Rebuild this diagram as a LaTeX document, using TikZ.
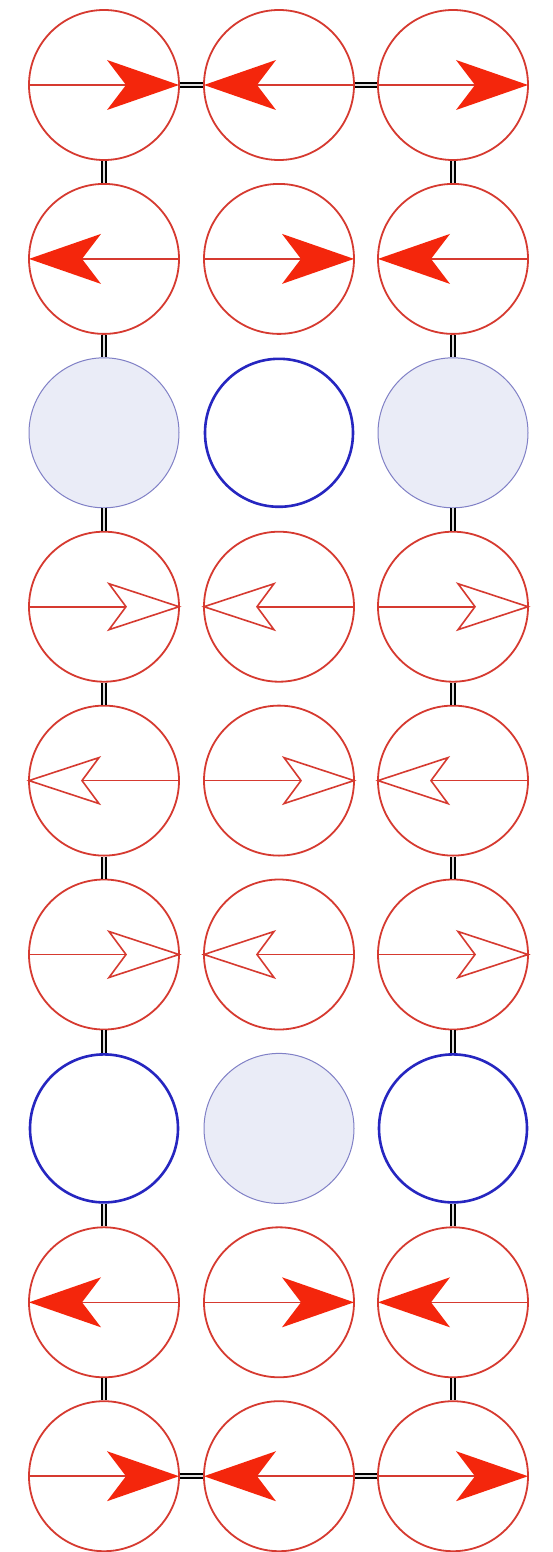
\documentclass[tikz,border=0pt]{standalone}
\definecolor{cred}{RGB}{214,58,48}
\definecolor{hred}{RGB}{244,38,12}
\definecolor{cblue}{RGB}{38,38,192}
\definecolor{gblue}{RGB}{128,128,198}
\definecolor{gfill}{RGB}{234,236,247}
\tikzset{
  spinc/.style={circle,draw=cred,line width=1.8pt,minimum size=150pt,inner sep=0pt},
  vacc/.style={circle,draw=cblue,line width=2.6pt,minimum size=148pt,inner sep=0pt},
  dotc/.style={circle,draw=gblue,line width=1pt,fill=gfill,minimum size=150pt,inner sep=0pt},
  bond/.style={draw=black,double=white!75!gray,double distance=2.2pt,line width=1.8pt},
  pics/fhead/.style={code={
    \draw[cred,line width=1.6pt] (-75,0) -- (30,0);
    \fill[hred] (75,0) -- (3,25) -- (22,0) -- (3,-25) -- cycle;}},
  pics/ohead/.style={code={
    \draw[cred,line width=1.6pt] (-75,0) -- (22,0);
    \draw[cred,line width=1.6pt,fill=white,line join=miter] (75,0) -- (5,23) -- (22,0) -- (5,-23) -- cycle;}}
}
\begin{document}
\begin{tikzpicture}[x=1pt,y=-1pt]
\useasboundingbox (0,0) rectangle (553,1552);
\fill[white] (0,0) rectangle (553,1552);
\foreach \r/\ta/\tb/\tc in {1/spinc/spinc/spinc,2/spinc/spinc/spinc,3/dotc/vacc/dotc,
  4/spinc/spinc/spinc,5/spinc/spinc/spinc,6/spinc/spinc/spinc,7/vacc/dotc/vacc,
  8/spinc/spinc/spinc,9/spinc/spinc/spinc}{
  \pgfmathsetmacro{\yy}{85+173.9*(\r-1)}
  \node[\ta] (c\r1) at (104,\yy) {};
  \node[\tb] (c\r2) at (279,\yy) {};
  \node[\tc] (c\r3) at (453,\yy) {};
}
% bonds
\foreach \r [evaluate=\r as \s using int(\r+1)] in {1,...,8}{
  \draw[bond] (c\r1.south) -- (c\s1.north);
  \draw[bond] (c\r3.south) -- (c\s3.north);
}
\draw[bond] (c11.east) -- (c12.west);
\draw[bond] (c12.east) -- (c13.west);
\draw[bond] (c91.east) -- (c92.west);
\draw[bond] (c92.east) -- (c93.west);
% spins
\pic at (c11.center) {fhead};
\pic[xscale=-1] at (c12.center) {fhead};
\pic at (c13.center) {fhead};
\pic[xscale=-1] at (c21.center) {fhead};
\pic at (c22.center) {fhead};
\pic[xscale=-1] at (c23.center) {fhead};
\pic at (c41.center) {ohead};
\pic[xscale=-1] at (c42.center) {ohead};
\pic at (c43.center) {ohead};
\pic[xscale=-1] at (c51.center) {ohead};
\pic at (c52.center) {ohead};
\pic[xscale=-1] at (c53.center) {ohead};
\pic at (c61.center) {ohead};
\pic[xscale=-1] at (c62.center) {ohead};
\pic at (c63.center) {ohead};
\pic[xscale=-1] at (c81.center) {fhead};
\pic at (c82.center) {fhead};
\pic[xscale=-1] at (c83.center) {fhead};
\pic at (c91.center) {fhead};
\pic[xscale=-1] at (c92.center) {fhead};
\pic at (c93.center) {fhead};
\end{tikzpicture}
\end{document}
